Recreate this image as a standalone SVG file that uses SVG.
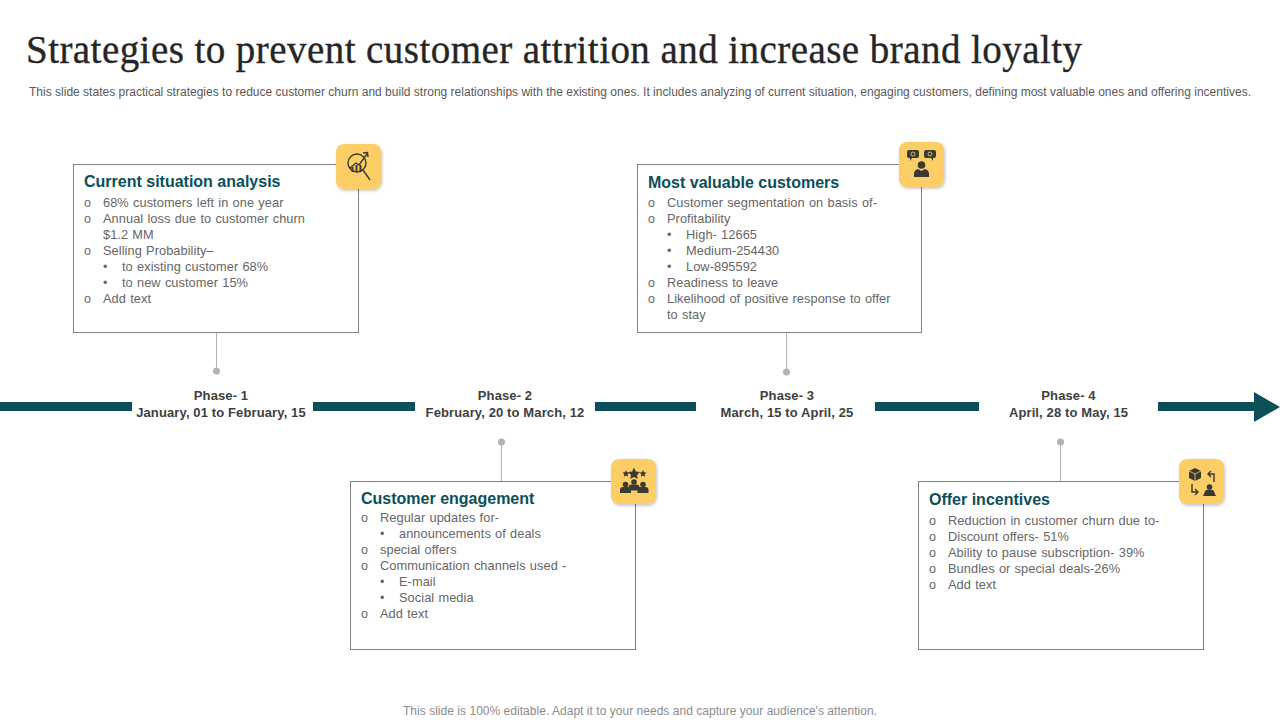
<svg xmlns="http://www.w3.org/2000/svg" width="1280" height="720" viewBox="0 0 1280 720">
<style>
text{font-family:"Liberation Sans",Arial,sans-serif}
.title{font-family:"Liberation Serif","Times New Roman",serif;font-size:39px;fill:#262626;stroke:#262626;stroke-width:.35}
.sub{font-size:12px;fill:#595959}
.foot{font-size:12px;fill:#8c8c8c}
.box{fill:#fff;stroke:#7f7f7f;stroke-width:1}
.head{font-size:16px;font-weight:bold;fill:#0b5058}
.b{font-size:12.800px;letter-spacing:.06px;word-spacing:.6px;fill:#666}
.o{font-size:12.500px;fill:#666}
.ph{font-size:13px;letter-spacing:.12px;font-weight:bold;fill:#404040;text-anchor:middle}
.bar{fill:#0b5058}
.stem{stroke:#b3b3b3;stroke-width:1;fill:none}
.dot{fill:#b3b3b3}
.badge{fill:#fdce66;filter:url(#sh)}
.ic{fill:#3a3a35}
.icl{fill:none;stroke:#3a3a35;stroke-width:1.4}
.cut{fill:none;stroke:#fdce66;stroke-width:.8}
</style>
<defs>
<filter id="sh" x="-20%" y="-20%" width="140%" height="140%"><feDropShadow dx="1" dy="1.5" stdDeviation="1.5" flood-color="#000" flood-opacity=".25"/></filter>
<g id="person"><circle cx="0" cy="-4.500" r="2.800"/><path d="M-5.500 4v-3q0-3 3-3h5q3 0 3 3v3z"/></g>
</defs>
<rect width="1280" height="720" fill="#fff"/>
<text class="title" x="26" y="63" textLength="1056" lengthAdjust="spacing">Strategies to prevent customer attrition and increase brand loyalty</text>
<text class="sub" x="29" y="96" textLength="1222" lengthAdjust="spacing">This slide states practical strategies to reduce customer churn and build strong relationships with the existing ones. It includes analyzing of current situation, engaging customers, defining most valuable ones and offering incentives.</text>
<g id="connectors">
<rect class="bar" x="0" y="402" width="132" height="9"/>
<rect class="bar" x="313" y="402" width="102" height="9"/>
<rect class="bar" x="595" y="402" width="101" height="9"/>
<rect class="bar" x="875" y="402" width="104" height="9"/>
<rect class="bar" x="1158" y="402" width="97" height="9"/>
<polygon class="bar" points="1254,392 1280,407 1254,422"/>
<path class="stem" d="M216.500 333V371M786.500 333V372M501.500 442V481M1060.500 442V481"/>
<circle class="dot" cx="216.500" cy="371" r="3.500"/>
<circle class="dot" cx="786.500" cy="372" r="3.500"/>
<circle class="dot" cx="501.500" cy="442" r="3.500"/>
<circle class="dot" cx="1060.500" cy="442" r="3.500"/>
</g>
<g id="phase-1"><text class="ph" x="221" y="400">Phase- 1</text><text class="ph" x="221" y="417">January, 01 to February, 15</text></g>
<g id="phase-2"><text class="ph" x="505" y="400">Phase- 2</text><text class="ph" x="505" y="417">February, 20 to March, 12</text></g>
<g id="phase-3"><text class="ph" x="787" y="400">Phase- 3</text><text class="ph" x="787" y="417">March, 15 to April, 25</text></g>
<g id="phase-4"><text class="ph" x="1068.500" y="400">Phase- 4</text><text class="ph" x="1068.500" y="417">April, 28 to May, 15</text></g>

<g id="node-current">
<rect class="box" x="73.500" y="164.500" width="285" height="168"/>
<text class="head" x="84" y="187">Current situation analysis</text>
<text class="o" x="84" y="207">o</text><text class="b" x="103" y="207">68% customers left in one year</text>
<text class="o" x="84" y="223">o</text><text class="b" x="103" y="223">Annual loss due to customer churn</text>
<text class="b" x="103" y="239">$1.2 MM</text>
<text class="o" x="84" y="255">o</text><text class="b" x="103" y="255">Selling Probability–</text>
<text class="o" x="103" y="271">•</text><text class="b" x="122" y="271">to existing customer 68%</text>
<text class="o" x="103" y="287">•</text><text class="b" x="122" y="287">to new customer 15%</text>
<text class="o" x="84" y="303">o</text><text class="b" x="103" y="303">Add text</text>
<rect class="badge" x="336" y="144" width="45" height="45" rx="8"/>
<circle class="icl" cx="357" cy="163" r="9"/>
<path class="icl" d="M363 170l7 10"/>
<path class="icl" d="M350 168l6-5 3 2 8-11M363 153l4.500-0.500 0.500 4.500"/>
<path class="ic" d="M351.500 167h2v5h-2zM355.500 165h2v7h-2zM359.500 165h2v7h-2z"/>
</g>

<g id="node-engagement">
<rect class="box" x="350.500" y="481.500" width="285" height="168"/>
<text class="head" x="361" y="504">Customer engagement</text>
<text class="o" x="361" y="522">o</text><text class="b" x="380" y="522">Regular updates for-</text>
<text class="o" x="380" y="538">•</text><text class="b" x="399" y="538">announcements of deals</text>
<text class="o" x="361" y="554">o</text><text class="b" x="380" y="554">special offers</text>
<text class="o" x="361" y="570">o</text><text class="b" x="380" y="570">Communication channels used -</text>
<text class="o" x="380" y="586">•</text><text class="b" x="399" y="586">E-mail</text>
<text class="o" x="380" y="602">•</text><text class="b" x="399" y="602">Social media</text>
<text class="o" x="361" y="618">o</text><text class="b" x="380" y="618">Add text</text>
<rect class="badge" x="611" y="459" width="45" height="45" rx="8"/>
<g class="ic">
<polygon points="634,467.500 635.800,471.500 640,472 637,475 637.800,479 634,477 630.200,479 631,475 628,472 632.200,471.500"/>
<polygon points="626,470 627,472.300 629.500,472.600 627.700,474.300 628.200,476.800 626,475.500 623.800,476.800 624.300,474.300 622.500,472.600 625,472.300"/>
<polygon points="643,470 644,472.300 646.500,472.600 644.700,474.300 645.200,476.800 643,475.500 640.800,476.800 641.300,474.300 639.500,472.600 642,472.300"/>
<use href="#person" x="625.500" y="489"/><use href="#person" x="643" y="489"/>
<use href="#person" x="634" y="486.500"/>
</g>
</g>

<g id="node-valuable">
<rect class="box" x="637.500" y="164.500" width="284" height="168"/>
<text class="head" x="648" y="188">Most valuable customers</text>
<text class="o" x="648" y="207">o</text><text class="b" x="667" y="207">Customer segmentation on basis of-</text>
<text class="o" x="648" y="223">o</text><text class="b" x="667" y="223">Profitability</text>
<text class="o" x="667" y="239">•</text><text class="b" x="686" y="239">High- 12665</text>
<text class="o" x="667" y="255">•</text><text class="b" x="686" y="255">Medium-254430</text>
<text class="o" x="667" y="271">•</text><text class="b" x="686" y="271">Low-895592</text>
<text class="o" x="648" y="287">o</text><text class="b" x="667" y="287">Readiness to leave</text>
<text class="o" x="648" y="303">o</text><text class="b" x="667" y="303">Likelihood of positive response to offer</text>
<text class="b" x="667" y="319">to stay</text>
<rect class="badge" x="899" y="142" width="45" height="45" rx="8"/>
<g class="ic">
<path d="M909 150h8q2 0 2 2v4q0 2-2 2h-5l-2 3v-3h-1q-2 0-2-2v-4q0-2 2-2zM926 150h8q2 0 2 2v4q0 2-2 2h-1v3l-2-3h-5q-2 0-2-2v-4q0-2 2-2z"/>
<circle cx="921.500" cy="165" r="3.800"/>
<path d="M914 177v-3q0-4 4-5l3.500 2 3.500-2q4 1 4 5v3z"/>
</g>
<circle class="cut" cx="913" cy="154" r="2"/><circle class="cut" cx="930" cy="154" r="2"/>
</g>

<g id="node-offer">
<rect class="box" x="918.500" y="481.500" width="285" height="168"/>
<text class="head" x="929" y="505">Offer incentives</text>
<text class="o" x="929" y="525">o</text><text class="b" x="948" y="525">Reduction in customer churn due to-</text>
<text class="o" x="929" y="541">o</text><text class="b" x="948" y="541">Discount offers- 51%</text>
<text class="o" x="929" y="557">o</text><text class="b" x="948" y="557">Ability to pause subscription- 39%</text>
<text class="o" x="929" y="573">o</text><text class="b" x="948" y="573">Bundles or special deals-26%</text>
<text class="o" x="929" y="589">o</text><text class="b" x="948" y="589">Add text</text>
<rect class="badge" x="1179" y="459" width="45" height="45" rx="8"/>
<polygon class="ic" points="1195,468 1201,471 1201,478 1195,481 1189,478 1189,471"/>
<path class="cut" d="M1189 471l6 3 6-3M1195 474v7"/>
<path class="icl" d="M1214 482v-8h-6M1211 471l-3 3 3 3M1192 484v8h6M1195 489l3 3-3 3"/>
<circle class="ic" cx="1209.500" cy="487" r="2.800"/>
<path class="ic" d="M1203 496l2.500-5.500q1-1 4-1t4 1l2.500 5.500z"/>
</g>
<text class="foot" x="403" y="715" textLength="474" lengthAdjust="spacing">This slide is 100% editable. Adapt it to your needs and capture your audience's attention.</text>
</svg>
